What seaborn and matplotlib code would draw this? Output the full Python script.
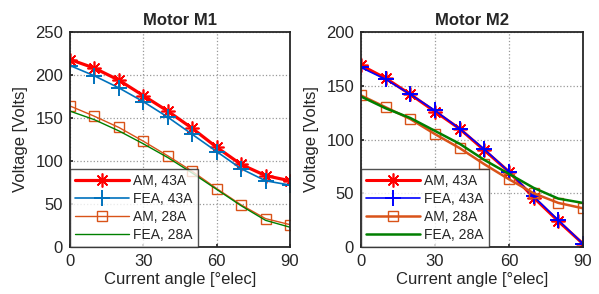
import numpy as np
import pandas as pd
import seaborn as sns
import matplotlib
matplotlib.use("Agg")
import matplotlib.pyplot as plt

angle = [0, 10, 20, 30, 40, 50, 60, 70, 80, 90]

m1_am43 = [218, 208, 194, 176, 158, 138, 116, 96, 83, 77]
m1_fea43 = [211, 199, 185, 169, 151, 131, 111, 91, 77, 72]
m1_am28 = [164, 152, 139, 123, 106, 88, 68, 49, 33, 26]
m1_fea28 = [158, 148, 135, 120, 104, 86, 67, 48, 31, 23]

m2_am43 = [169, 157, 142, 126, 110, 90, 70, 46, 24, 3]
m2_fea43 = [167, 156, 142, 127, 110, 91, 70, 47, 25, 3]
m2_am28 = [141, 130, 119, 105, 92, 77, 63, 50, 41, 36]
m2_fea28 = [140, 129, 120, 108, 96, 81, 68, 55, 45, 41]

labels = ["AM, 43A", "FEA, 43A", "AM, 28A", "FEA, 28A"]

sns.set_theme(style="white")
plt.rcParams['font.family'] = ['Liberation Sans', 'DejaVu Sans']

fig = plt.figure(figsize=(5.99, 2.94), dpi=100)
ax1 = fig.add_axes([70/599, 1-247/294, 220/599, 215/294])
ax2 = fig.add_axes([361/599, 1-247/294, 222/599, 215/294])

asterisk = (8, 2, 0)

def draw(ax, series, styles, title, ymax, yticks):
    for vals, lab, st in zip(series, labels, styles):
        df = pd.DataFrame({"angle": angle, "v": vals})
        sns.lineplot(data=df, x="angle", y="v", ax=ax, label=lab, color=st["c"],
                     linewidth=st["lw"], marker=st.get("m"), markersize=st.get("ms", 6),
                     markerfacecolor=st.get("mfc", st["c"]), markeredgecolor=st["c"],
                     markeredgewidth=st.get("mew", 1.2))
    ax.set_xlim(0, 90)
    ax.set_ylim(0, ymax)
    ax.set_xticks([0, 30, 60, 90])
    ax.set_yticks(yticks)
    ax.grid(True, linestyle=":", color="#999999", linewidth=0.9)
    ax.set_title(title, fontsize=12, fontweight="bold", pad=5)
    ax.set_xlabel("Current angle [°elec]", fontsize=12, labelpad=2, color="#262626")
    ax.set_ylabel("Voltage [Volts]", fontsize=12, labelpad=5, color="#262626")
    ax.tick_params(direction="in", length=2, labelsize=12, pad=5,
                   bottom=True, left=True, color="#262626", labelcolor="#262626")
    for s in ax.spines.values():
        s.set_color("#262626")
        s.set_linewidth(1.3)
    leg = ax.legend(loc="lower left", fontsize=10, frameon=True, fancybox=False,
                    handlelength=3.9, borderpad=0.35, labelspacing=0.3,
                    handletextpad=0.3, borderaxespad=0.0, edgecolor="#262626")
    leg.get_frame().set_linewidth(1.0)

styles1 = [
    dict(c="#FF0000", lw=2.3, m=asterisk, ms=10, mew=1.2),
    dict(c="#0072BD", lw=1.2, m="+", ms=11, mew=1.4),
    dict(c="#D95319", lw=1.0, m="s", ms=6.5, mfc="none", mew=1.0),
    dict(c="#008000", lw=1.0),
]
styles2 = [
    dict(c="#FF0000", lw=2.2, m=asterisk, ms=10, mew=1.2),
    dict(c="#0000FF", lw=1.2, m="+", ms=11, mew=1.4),
    dict(c="#D95319", lw=1.8, m="s", ms=6.5, mfc="none", mew=1.0),
    dict(c="#007F00", lw=1.8),
]

draw(ax1, [m1_am43, m1_fea43, m1_am28, m1_fea28], styles1, "Motor M1", 250, [0, 50, 100, 150, 200, 250])
draw(ax2, [m2_am43, m2_fea43, m2_am28, m2_fea28], styles2, "Motor M2", 200, [0, 50, 100, 150, 200])

fig.savefig("out.png", dpi=100, facecolor="white")
